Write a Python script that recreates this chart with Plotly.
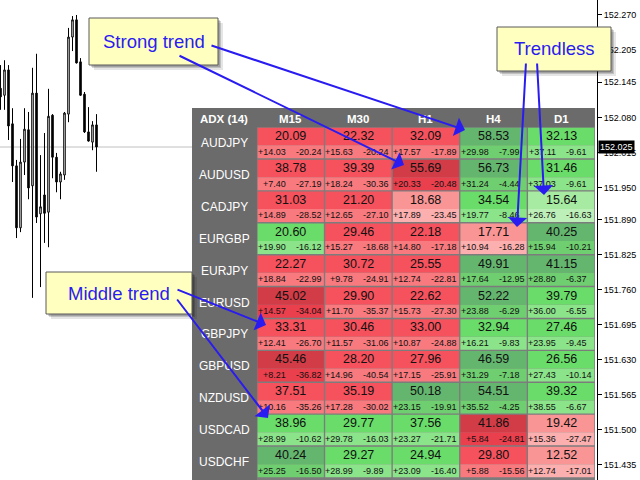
import plotly.graph_objects as go

# --- 1. Chart data (price candles on the left) ---
candle_open = [152.134, 152.121, 152.168, 152.068, 151.990, 151.875, 151.997, 152.057, 151.953,
               152.125, 151.901, 151.936, 151.904, 152.084, 152.006, 151.960, 151.973, 152.086,
               152.229, 152.261, 152.183, 152.123, 152.053, 152.034, 152.066]
candle_high = [152.177, 152.186, 152.177, 152.097, 152.001, 152.040, 152.097, 152.090, 152.172,
               152.198, 152.010, 152.051, 152.133, 152.086, 152.014, 151.979, 152.090, 152.246,
               152.268, 152.270, 152.190, 152.127, 152.099, 152.073, 152.086]
candle_low = [152.094, 152.094, 152.038, 151.960, 151.856, 151.867, 151.973, 151.928, 151.745,
              151.884, 151.765, 151.847, 151.839, 151.967, 151.941, 151.928, 151.964, 152.071,
              152.203, 152.180, 152.120, 152.051, 152.035, 152.019, 151.979]
candle_close = [152.118, 152.168, 152.064, 151.990, 151.875, 151.997, 152.058, 151.949, 152.125,
                151.895, 151.914, 151.902, 152.082, 152.006, 151.960, 151.975, 152.088, 152.229,
                152.261, 152.181, 152.121, 152.053, 152.036, 152.066, 152.025]
current_price = 152.025
price_labels = ["152.270", "152.205", "152.145", "152.080", "152.015", "151.950", "151.890",
                "151.825", "151.760", "151.695", "151.630", "151.565", "151.500", "151.435"]

# --- 2. ADX table data ---
symbols = ["AUDJPY", "AUDUSD", "CADJPY", "EURGBP", "EURJPY", "EURUSD",
           "GBPJPY", "GBPUSD", "NZDUSD", "USDCAD", "USDCHF"]
timeframes = ["M15", "M30", "H1", "H4", "D1"]
adx = [
    [20.09, 22.32, 32.09, 58.53, 32.13],
    [38.78, 39.39, 55.69, 56.73, 31.46],
    [31.03, 21.20, 18.68, 34.54, 15.64],
    [20.60, 29.46, 22.18, 17.71, 40.25],
    [22.27, 30.72, 25.55, 49.91, 41.15],
    [45.02, 29.90, 22.62, 52.22, 39.79],
    [33.31, 30.46, 33.00, 32.94, 27.46],
    [45.46, 28.20, 27.96, 46.59, 26.56],
    [37.51, 35.19, 50.18, 54.51, 39.32],
    [38.96, 29.77, 37.56, 41.86, 19.42],
    [40.24, 29.27, 24.94, 29.80, 12.52],
]
plus_di = [
    [14.03, 15.63, 17.57, 29.98, 37.11],
    [7.40, 18.24, 20.33, 31.24, 37.03],
    [14.89, 12.65, 17.89, 19.77, 26.76],
    [19.90, 15.27, 14.80, 10.94, 15.94],
    [18.84, 9.78, 12.74, 17.64, 28.80],
    [14.57, 11.70, 15.73, 23.88, 36.00],
    [12.41, 11.57, 10.87, 16.21, 23.95],
    [8.21, 14.96, 17.15, 31.29, 27.43],
    [10.16, 17.28, 23.15, 35.52, 38.55],
    [28.99, 29.78, 23.27, 5.84, 15.36],
    [25.25, 28.99, 23.09, 5.88, 12.74],
]
minus_di = [
    [20.24, 20.24, 17.89, 7.99, 9.61],
    [27.19, 30.36, 20.48, 4.44, 9.61],
    [28.52, 27.10, 23.45, 8.46, 16.63],
    [16.12, 18.68, 17.18, 16.28, 10.21],
    [22.99, 24.91, 22.81, 12.95, 6.37],
    [34.04, 35.37, 27.30, 6.29, 6.55],
    [26.70, 31.06, 24.88, 9.83, 9.45],
    [36.82, 40.54, 25.91, 7.18, 10.14],
    [35.26, 30.02, 19.91, 4.25, 6.67],
    [10.62, 16.03, 21.71, 24.81, 27.47],
    [16.50, 9.89, 16.40, 15.56, 17.01],
]

# --- 3. Styles ---
PLOT_W, PLOT_H = 597, 480
RED = [("#F99595", "#FBAFAF"), ("#F5525D", "#F87A7E"), ("#D13C47", "#EA3F4C")]
GREEN = [("#A6EBA1", "#BDF0B8"), ("#6ADC6A", "#8BE38A"), ("#64B66F", "#6FCE70")]
BLUE = "#2a1cf0"
FONT = "Liberation Sans"
MAIN_SPLIT = 0.57


def px(x):
    return x / PLOT_W


def py(y):
    return 1 - y / PLOT_H


fig = go.Figure()
fig.add_trace(
    go.Candlestick(
        x=list(range(len(candle_open))),
        open=candle_open,
        high=candle_high,
        low=candle_low,
        close=candle_close,
        increasing=dict(line=dict(color="black", width=1), fillcolor="white"),
        decreasing=dict(line=dict(color="black", width=1), fillcolor="black"),
        whiskerwidth=0,
        hoverinfo="skip",
        showlegend=False,
    )
)

shapes = []
annotations = []

# current price line
shapes.append(dict(type="line", xref="paper", x0=0, x1=1, yref="y", y0=current_price,
                   y1=current_price, line=dict(color="#c0c0c0", width=1), layer="below"))

# --- 4. ADX table ---
n_rows = len(symbols)
shapes.append(dict(type="rect", xref="x2", yref="y2", x0=-0.96, x1=len(timeframes), y0=-0.6,
                   y1=n_rows + 0.2, fillcolor="#6b6b6b", line=dict(width=0), layer="below"))
shapes.append(dict(type="rect", xref="x2", yref="y2", x0=0, x1=len(timeframes), y0=0,
                   y1=n_rows + 0.2, fillcolor="#7c7c7c", line=dict(width=0), layer="below"))

annotations.append(dict(xref="x2", yref="y2", x=-0.48, y=-0.27, text="<b>ADX (14)</b>",
                        showarrow=False, font=dict(family=FONT, size=11.5, color="white")))
for c, tf in enumerate(timeframes):
    annotations.append(dict(xref="x2", yref="y2", x=c + 0.5, y=-0.27, text=f"<b>{tf}</b>",
                            showarrow=False, font=dict(family=FONT, size=11.5, color="white")))

gx, gy = 0.01, 0.022
for r, sym in enumerate(symbols):
    annotations.append(dict(xref="x2", yref="y2", x=-0.48, y=r + 0.5, text=sym,
                            showarrow=False, font=dict(family=FONT, size=12, color="white")))
    for c in range(len(timeframes)):
        a, p, m = adx[r][c], plus_di[r][c], minus_di[r][c]
        level = 0 if a < 20 else (1 if a < 40 else 2)
        main_col, sub_col = (GREEN if p > m else RED)[level]
        shapes.append(dict(type="rect", xref="x2", yref="y2", x0=c + gx, x1=c + 1 - gx,
                           y0=r + gy, y1=r + MAIN_SPLIT, fillcolor=main_col,
                           line=dict(width=0), layer="below"))
        shapes.append(dict(type="rect", xref="x2", yref="y2", x0=c + gx, x1=c + 1 - gx,
                           y0=r + MAIN_SPLIT, y1=r + 1 - gy, fillcolor=sub_col,
                           line=dict(width=0), layer="below"))
        annotations.append(dict(xref="x2", yref="y2", x=c + 0.5, y=r + 0.28, text=f"{a:.2f}",
                                showarrow=False, font=dict(family=FONT, size=12.5, color="#111111")))
        annotations.append(dict(xref="x2", yref="y2", x=c + 0.5, y=r + 0.77, text=f"+{p:.2f}",
                                xanchor="right", xshift=-3, showarrow=False,
                                font=dict(family=FONT, size=9, color="#111111")))
        annotations.append(dict(xref="x2", yref="y2", x=c + 0.5, y=r + 0.77, text=f"-{m:.2f}",
                                xanchor="left", xshift=3, showarrow=False,
                                font=dict(family=FONT, size=9, color="#111111")))

# --- 5. Callouts ---
callouts = [
    ("Strong trend", 89, 18, 218, 65),
    ("Trendless", 497, 27, 611, 71),
    ("Middle trend", 46, 272, 192, 314),
]
for text, x0, y0, x1, y1 in callouts:
    for off, alpha in ((5, 0.10), (3, 0.16), (2, 0.16)):
        shapes.append(dict(type="rect", xref="paper", yref="paper", x0=px(x0 + off),
                           x1=px(x1 + off), y0=py(y0 + off), y1=py(y1 + off),
                           fillcolor=f"rgba(0,0,0,{alpha})", line=dict(width=0), layer="above"))
    shapes.append(dict(type="rect", xref="paper", yref="paper", x0=px(x0), x1=px(x1),
                       y0=py(y0), y1=py(y1), fillcolor="#FFFFC0",
                       line=dict(color="#5a5a5a", width=1), layer="above"))
    annotations.append(dict(xref="paper", yref="paper", x=px((x0 + x1) / 2), y=py((y0 + y1) / 2),
                            xanchor="center", yanchor="middle", text=text, showarrow=False,
                            font=dict(family=FONT, size=18.5, color=BLUE)))

arrows = [
    ((178, 55), (404, 165)),
    ((210, 45), (465, 130)),
    ((526, 62), (517, 227)),
    ((537, 62), (544, 195)),
    ((176, 289), (266, 325)),
    ((176, 298), (268, 418)),
]
for (tx, ty), (hx, hy) in arrows:
    annotations.append(dict(xref="paper", yref="paper", x=px(hx), y=py(hy), text="",
                            showarrow=True, ax=tx - hx, ay=ty - hy, arrowhead=1,
                            arrowsize=1.6, arrowwidth=2, arrowcolor=BLUE, standoff=0))

# current price tag
annotations.append(dict(xref="paper", x=1, xanchor="left", xshift=1, yref="y", y=current_price,
                        yanchor="middle", text="152.025", showarrow=False, bgcolor="black",
                        borderpad=1, font=dict(family=FONT, size=9, color="white")))

fig.update_layout(
    width=640,
    height=480,
    margin=dict(l=0, r=43, t=0, b=0),
    paper_bgcolor="white",
    plot_bgcolor="white",
    showlegend=False,
    boxgap=0.45,
    xaxis=dict(range=[-0.125, 149.125], visible=False, fixedrange=True,
               rangeslider=dict(visible=False)),
    yaxis=dict(range=[151.407, 152.2978], side="right", showline=True, linecolor="black",
               linewidth=1, ticks="outside", ticklen=4, tickcolor="black",
               tickvals=[float(s) for s in price_labels], ticktext=price_labels,
               tickfont=dict(family=FONT, size=9, color="black"), showgrid=False,
               zeroline=False, fixedrange=True),
    xaxis2=dict(domain=[192 / PLOT_W, 1], range=[-0.96, 5.03], visible=False, anchor="y2"),
    yaxis2=dict(domain=[0, 372 / PLOT_H], range=[11.066, -0.6], visible=False, anchor="x2"),
    shapes=shapes,
    annotations=annotations,
)

# page margin off, so the 640x480 figure fills the window exactly
fig.write_html(
    "out.html",
    config={"displayModeBar": False},
    post_script="document.body.style.margin = '0';",
)
